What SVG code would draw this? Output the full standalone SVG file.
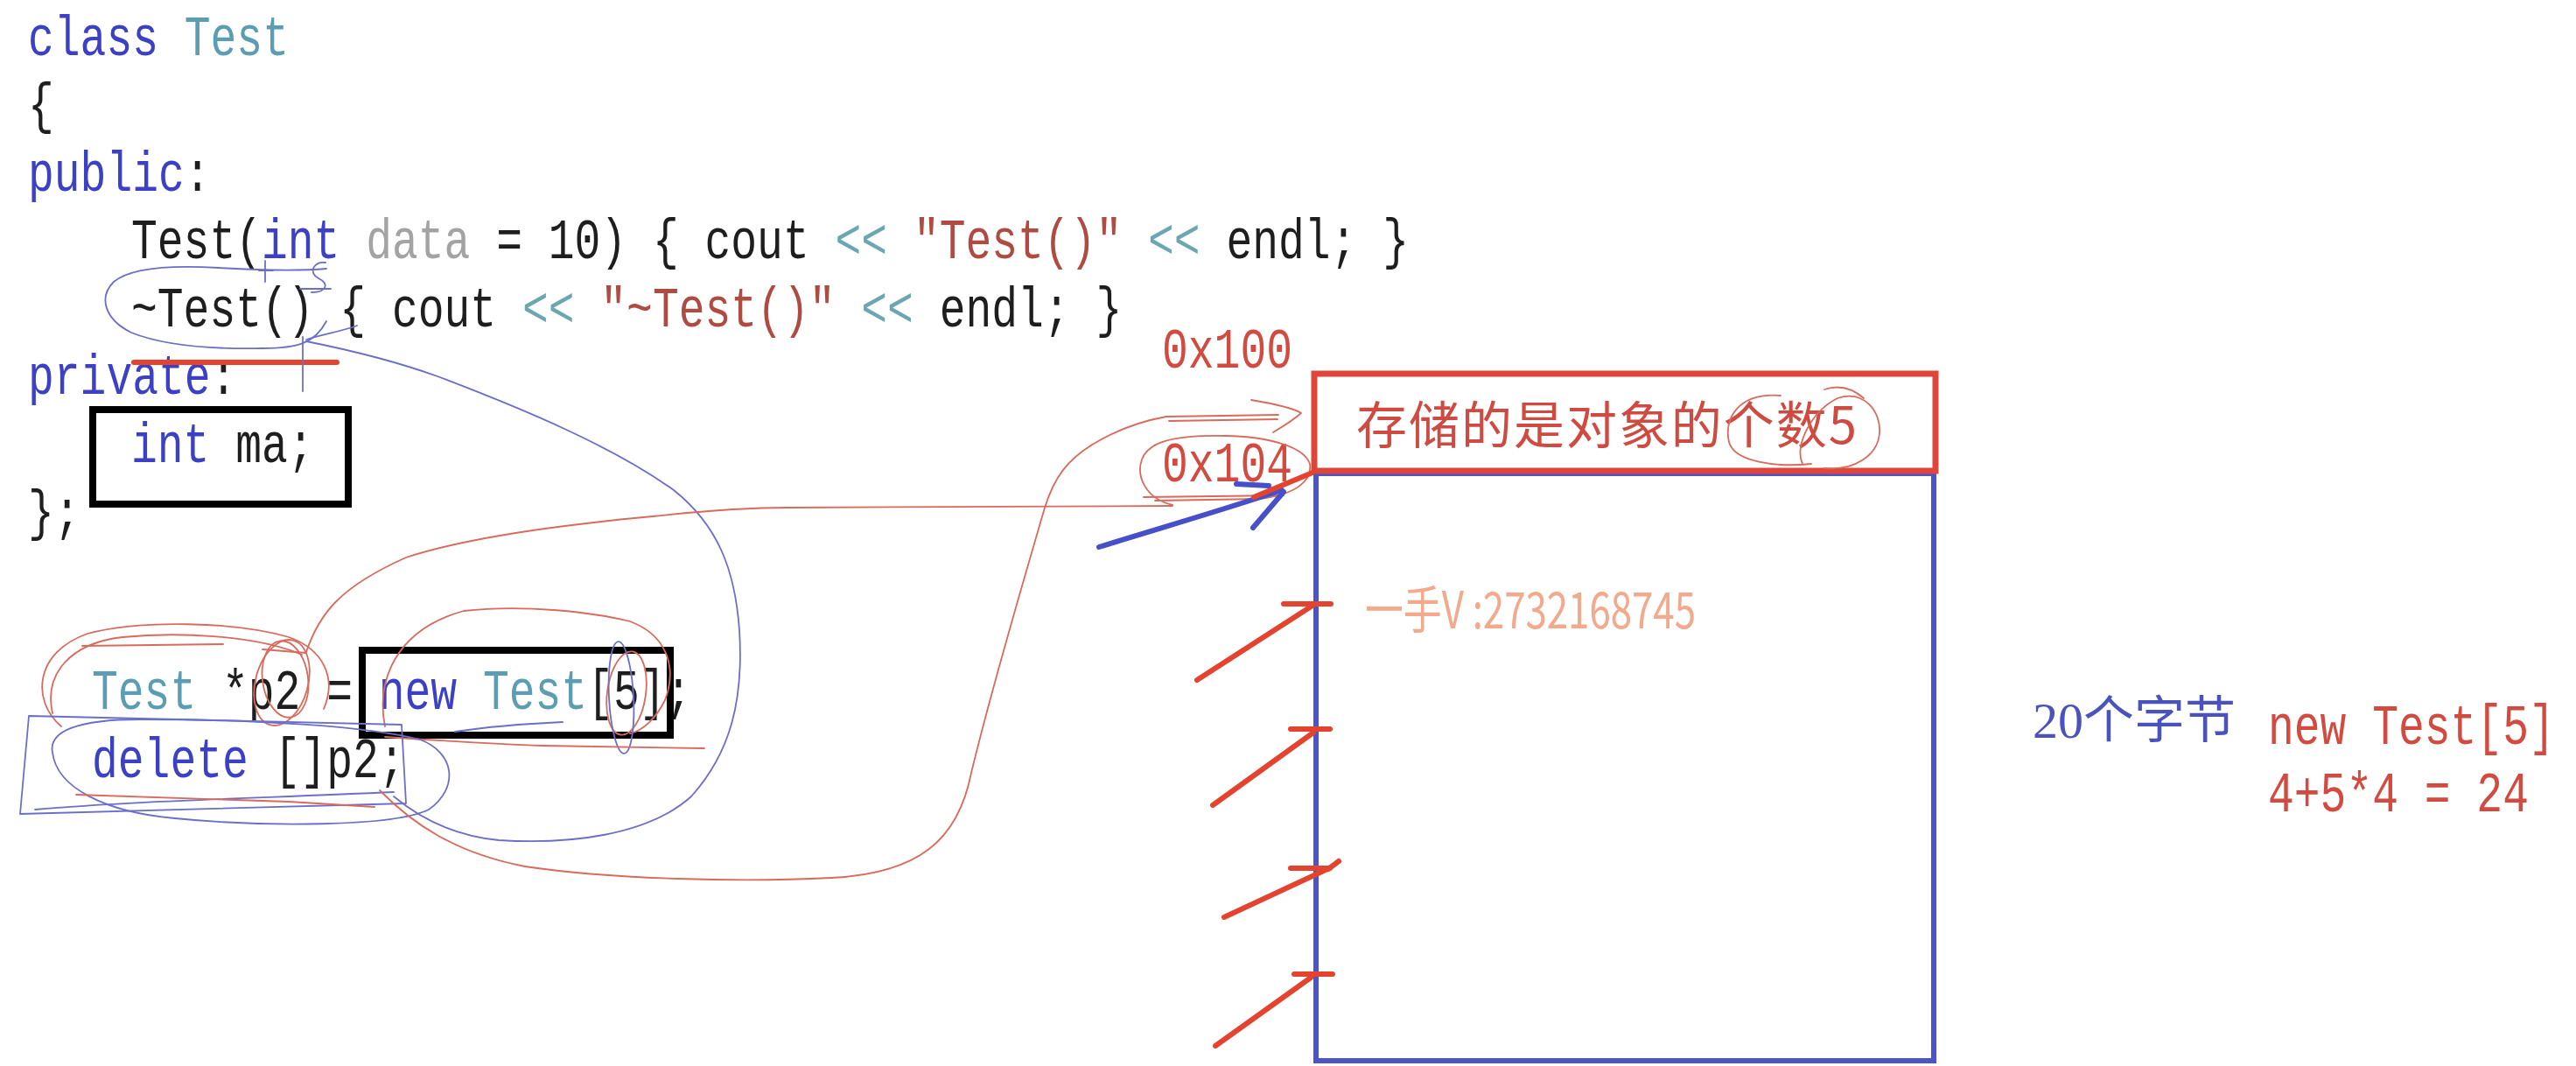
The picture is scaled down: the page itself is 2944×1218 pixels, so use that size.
<svg xmlns="http://www.w3.org/2000/svg" width="2944" height="1218" viewBox="0 0 2944 1218">
<style>
.code{font-family:"Liberation Mono","DejaVu Sans Mono",monospace;font-size:64px;white-space:pre}
.kw{fill:#3b40c4}.ty{fill:#5b9db3}.op{fill:#6aa7b2}.str{fill:#b04b42}.prm{fill:#a3a3a3}.pl{fill:#1e1e1e}
.rd{fill:#d24b40}
.cjk{font-family:"Noto Sans CJK SC","Liberation Sans",sans-serif}
.thinR{fill:none;stroke:#d96a5c;stroke-width:1.8;stroke-linecap:round;stroke-linejoin:round}
.thinB{fill:none;stroke:#6b6fc9;stroke-width:1.8;stroke-linecap:round;stroke-linejoin:round}
.penR{fill:none;stroke:#e4432f;stroke-width:6;stroke-linecap:round;stroke-linejoin:round}
.penB{fill:none;stroke:#4650c8;stroke-width:6;stroke-linecap:round;stroke-linejoin:round}
.box{fill:none;stroke:#000;stroke-width:8}
</style>
<rect width="2944" height="1218" fill="#fff"/>

<g id="class-code">
<text class="code" transform="translate(32,63) scale(0.776,1)"><tspan class="kw">class</tspan><tspan class="pl"> </tspan><tspan class="ty">Test</tspan></text>
<text class="code pl" transform="translate(32,140) scale(0.776,1)">{</text>
<text class="code" transform="translate(32,218) scale(0.776,1)"><tspan class="kw">public</tspan><tspan class="pl">:</tspan></text>
<text class="code" transform="translate(150,295) scale(0.776,1)"><tspan class="pl">Test(</tspan><tspan class="kw">int</tspan><tspan class="prm"> data</tspan><tspan class="pl"> = 10) { cout </tspan><tspan class="op">&lt;&lt;</tspan><tspan class="pl"> </tspan><tspan class="str">"Test()"</tspan><tspan class="pl"> </tspan><tspan class="op">&lt;&lt;</tspan><tspan class="pl"> endl; }</tspan></text>
<text class="code" transform="translate(150,373) scale(0.776,1)"><tspan class="pl">~Test() { cout </tspan><tspan class="op">&lt;&lt;</tspan><tspan class="pl"> </tspan><tspan class="str">"~Test()"</tspan><tspan class="pl"> </tspan><tspan class="op">&lt;&lt;</tspan><tspan class="pl"> endl; }</tspan></text>
<text class="code" transform="translate(32,450) scale(0.776,1)"><tspan class="kw">private</tspan><tspan class="pl">:</tspan></text>
<text class="code pl" transform="translate(32,605) scale(0.776,1)">};</text>
</g>

<g id="member-box">
<rect class="box" x="106" y="468" width="292" height="108" stroke-width="7"/>
<text class="code" transform="translate(150,528) scale(0.776,1)"><tspan class="kw">int</tspan><tspan class="pl"> ma;</tspan></text>
</g>

<g id="stmt-new">
<text class="code" transform="translate(105,810) scale(0.776,1)"><tspan class="ty">Test</tspan><tspan class="pl"> *p2 = </tspan><tspan class="kw">new</tspan><tspan class="pl"> </tspan><tspan class="ty">Test</tspan><tspan class="pl">[5];</tspan></text>
<rect class="box" x="414" y="743" width="352" height="97"/>
</g>

<g id="stmt-delete">
<text class="code" transform="translate(105,888) scale(0.776,1)"><tspan class="kw">delete</tspan><tspan class="pl"> []p2;</tspan></text>
</g>

<g id="addr-labels">
<text class="code rd" transform="translate(1328,420) scale(0.776,1)">0x100</text>
<text class="code rd" transform="translate(1328,550) scale(0.776,1)">0x104</text>
</g>

<g id="mem-body">
<rect x="1504" y="541" width="706" height="671" fill="none" stroke="#4b55c9" stroke-width="6"/>
<text x="1560" y="718" class="cjk" font-size="58" fill="#f2a98c" textLength="378" lengthAdjust="spacingAndGlyphs">一手V :2732168745</text>
</g>

<g id="mem-header">
<rect x="1502" y="427" width="710" height="111" fill="#fff" stroke="#e0453a" stroke-width="7"/>
<text x="1550" y="507" class="cjk" font-size="58" fill="#cf4a40" textLength="572">存储的是对象的个数5</text>
</g>

<g id="side-notes">
<text x="2323" y="843" font-family="Liberation Serif, Noto Sans CJK SC, serif" font-size="58" fill="#4a52bb">20个字节</text>
<text class="code rd" transform="translate(2592,850) scale(0.776,1)">new Test[5]</text>
<text class="code rd" transform="translate(2592,927) scale(0.776,1)">4+5*4 = 24</text>
</g>

<g id="connectors">
<path class="penR" d="M153,414 L385,414" stroke-width="7" stroke-linecap="butt"/>
<path class="thinB" d="M373,367 C360,392 340,398 300,398 C250,399 190,396 150,380 C120,365 112,340 130,322 C150,305 200,303 250,306 C300,309 340,310 373,307"/>
<path class="thinB" d="M350,388 C370,382 392,378 408,372"/>
<path class="thinB" d="M303,298 L303,322 M296,309 L312,309 M372,300 C358,298 352,312 364,318 C376,324 374,334 356,334 M343,330 L378,330"/>
<path class="thinB" d="M346,385 L346,447"/>
<path class="thinB" d="M350,390 C400,400 450,412 500,430 C600,468 700,510 770,560 C820,600 840,650 845,720 C850,800 835,860 790,910 C740,955 650,965 570,960 C520,955 480,935 450,910"/>
<path class="thinR" d="M70,830 C35,800 40,745 100,724 C160,708 270,710 330,728 C370,742 385,775 370,810"/>
<path class="thinR" d="M60,815 C50,770 80,735 140,728 C200,722 290,725 345,748"/>
<path class="thinR" d="M94,738 L255,736"/>
<ellipse class="thinR" cx="322" cy="780" rx="30" ry="50" transform="rotate(15 322 780)"/>
<ellipse class="thinR" cx="326" cy="776" rx="26" ry="44" transform="rotate(-8 326 776)"/>
<path class="thinR" d="M300,742 L350,746"/>
<path class="thinR" d="M440,830 C430,780 450,720 530,698 C600,690 680,700 720,710 C760,725 775,760 760,800 C750,820 735,835 720,838"/>
<ellipse class="thinR" cx="716" cy="792" rx="22" ry="48" transform="rotate(8 716 792)"/>
<ellipse class="thinB" cx="710" cy="797" rx="14" ry="64" transform="rotate(-3 710 797)"/>
<path class="thinR" d="M440,842 C500,846 560,850 620,852 L805,855"/>
<path class="thinB" d="M520,836 C560,830 600,827 643,825"/>
<path class="thinB" d="M33,818 L459,828 L464,918 L23,930 Z"/>
<path class="thinB" d="M60,860 C55,835 90,822 160,822 C300,822 420,830 480,845 C520,860 525,900 490,925 C450,945 300,945 200,935 C120,928 65,900 60,860"/>
<path class="thinB" d="M40,925 C150,915 300,912 450,905"/>
<path class="thinR" d="M87,908 C150,910 230,913 330,916 L428,922"/>
<path class="thinR" d="M350,745 C365,700 390,670 464,637 C540,612 660,598 746,590 C820,582 860,580 900,580 L1340,578"/>
<path class="thinR" d="M1340,577 C1310,570 1298,545 1305,525 C1312,505 1340,497 1400,498 C1450,499 1490,510 1497,530 C1500,550 1480,565 1440,570 L1320,572"/>
<path class="thinR" d="M1307,568 L1467,566"/>
<path class="thinR" d="M434,903 C470,940 520,975 600,990 C700,1005 850,1008 950,1003 C1050,998 1095,960 1110,883 C1135,780 1165,680 1194,580 C1205,545 1220,525 1250,507 C1275,492 1300,482 1333,476 L1461,474"/>
<path class="thinR" d="M1336,481 L1460,479"/>
<path class="thinR" d="M1430,457 C1460,462 1478,466 1487,472 C1478,480 1465,488 1455,494"/>
<path class="thinR" d="M2035,452 C1985,448 1970,480 1976,505 C1982,528 2030,534 2070,530"/>
<path class="thinR" d="M2060,530 C2050,510 2070,470 2100,455 C2130,445 2150,470 2148,495 C2146,520 2120,538 2085,535"/>
<path class="thinR" d="M2085,445 C2100,440 2115,442 2130,455"/>
<path class="penB" d="M1256,625 C1320,605 1400,582 1465,560"/>
<path class="penB" d="M1413,553 L1450,555" stroke-width="5"/>
<path class="penB" d="M1432,603 L1467,562" stroke-width="5"/>
<path class="penR" d="M1433,568 L1500,540"/>
<path class="penR" d="M1368,777 L1503,690 M1467,690 L1521,690"/>
<path class="penR" d="M1386,920 L1501,837 M1475,833 L1520,833"/>
<path class="penR" d="M1399,1048 L1517,993 M1475,992 L1520,992 M1518,993 L1530,984"/>
<path class="penR" d="M1389,1195 L1498,1117 M1479,1113 L1523,1113"/>
</g>
</svg>
